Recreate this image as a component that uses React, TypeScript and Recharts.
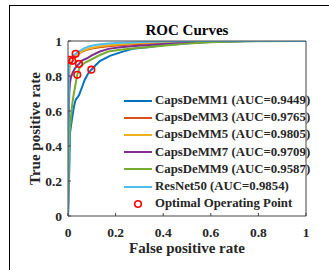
import { ComposedChart, Label, Legend, Line, Scatter, XAxis, YAxis } from "recharts";

// ROC curve points: [false positive rate, true positive rate]
const caps1: number[][] = [
  [0, 0], [0.006, 0.3], [0.008, 0.47], [0.012, 0.51], [0.018, 0.567], [0.025, 0.625],
  [0.032, 0.663], [0.046, 0.69], [0.06, 0.74], [0.07, 0.777], [0.085, 0.815], [0.098, 0.836],
  [0.115, 0.86], [0.134, 0.885], [0.176, 0.915], [0.22, 0.935], [0.27, 0.955], [0.345, 0.966],
  [0.39, 0.975], [0.47, 0.983], [0.55, 0.992], [0.65, 0.997], [0.8, 1], [1, 1],
];
const caps3: number[][] = [
  [0, 0], [0.003, 0.5], [0.005, 0.86], [0.007, 0.893], [0.015, 0.905], [0.025, 0.915],
  [0.04, 0.925], [0.06, 0.94], [0.08, 0.95], [0.1, 0.957], [0.134, 0.964], [0.17, 0.97],
  [0.22, 0.976], [0.28, 0.982], [0.35, 0.986], [0.45, 0.992], [0.55, 0.996], [0.7, 1], [1, 1],
];
const caps5: number[][] = [
  [0, 0], [0.003, 0.5], [0.006, 0.84], [0.012, 0.875], [0.018, 0.887], [0.03, 0.91],
  [0.045, 0.93], [0.065, 0.945], [0.09, 0.958], [0.134, 0.97], [0.18, 0.977], [0.24, 0.983],
  [0.3, 0.988], [0.4, 0.993], [0.5, 0.997], [0.65, 1], [1, 1],
];
const caps7: number[][] = [
  [0, 0], [0.003, 0.5], [0.005, 0.7], [0.008, 0.76], [0.012, 0.79], [0.02, 0.82],
  [0.03, 0.845], [0.046, 0.869], [0.06, 0.89], [0.078, 0.9], [0.1, 0.918], [0.134, 0.94],
  [0.17, 0.955], [0.22, 0.964], [0.28, 0.972], [0.345, 0.977], [0.42, 0.985], [0.5, 0.99],
  [0.6, 0.996], [0.75, 1], [1, 1],
];
const caps9: number[][] = [
  [0, 0], [0.004, 0.4], [0.008, 0.5], [0.012, 0.56], [0.016, 0.62], [0.022, 0.68],
  [0.03, 0.74], [0.039, 0.807], [0.05, 0.853], [0.07, 0.875], [0.092, 0.89], [0.134, 0.92],
  [0.17, 0.94], [0.22, 0.95], [0.28, 0.958], [0.345, 0.966], [0.42, 0.976], [0.5, 0.985],
  [0.6, 0.993], [0.75, 0.998], [1, 1],
];
const resnet50: number[][] = [
  [0, 0], [0.002, 0.5], [0.004, 0.85], [0.006, 0.89], [0.012, 0.905], [0.02, 0.915],
  [0.032, 0.927], [0.045, 0.94], [0.067, 0.958], [0.09, 0.97], [0.12, 0.978], [0.16, 0.984],
  [0.2, 0.988], [0.26, 0.991], [0.35, 0.995], [0.45, 0.998], [0.55, 1], [1, 1],
];

// optimal operating points, one per curve
const optimalPoints: number[][] = [
  [0.098, 0.836], [0.007, 0.893], [0.018, 0.887], [0.046, 0.869], [0.039, 0.807], [0.032, 0.927],
];

const axisTicks = [0, 0.2, 0.4, 0.6, 0.8, 1];

const toXY = (pts: number[][]) => pts.map(([x, y]) => ({ x, y }));

const series = [
  { name: "CapsDeMM1 (AUC=0.9449)", color: "#0072BD", points: caps1 },
  { name: "CapsDeMM3 (AUC=0.9765)", color: "#D95319", points: caps3 },
  { name: "CapsDeMM5 (AUC=0.9805)", color: "#EDB120", points: caps5 },
  { name: "CapsDeMM7 (AUC=0.9709)", color: "#7E2F8E", points: caps7 },
  { name: "CapsDeMM9 (AUC=0.9587)", color: "#77AC30", points: caps9 },
  { name: "ResNet50 (AUC=0.9854)", color: "#4DBEEE", points: resnet50 },
];

const FONT = '"Liberation Serif", "Times New Roman", serif';
const AXIS = "#444";
const TEXT = "#262626";

function RocLegend() {
  return (
    <div style={{ fontFamily: FONT, fontWeight: "bold", fontSize: 12.8, color: TEXT }}>
      {series.map((s) => (
        <div key={s.name} style={{ display: "flex", alignItems: "center", height: 17.2 }}>
          <svg width={30} height={6} style={{ marginRight: 1 }}>
            <line x1={0} y1={3} x2={28} y2={3} stroke={s.color} strokeWidth={2} />
          </svg>
          <span style={{ whiteSpace: "nowrap" }}>{s.name}</span>
        </div>
      ))}
      <div style={{ display: "flex", alignItems: "center", height: 17.2 }}>
        <svg width={30} height={10} style={{ marginRight: 1 }}>
          <circle cx={14} cy={5} r={3.3} fill="none" stroke="#FF0000" strokeWidth={1.6} />
        </svg>
        <span style={{ whiteSpace: "nowrap" }}>Optimal Operating Point</span>
      </div>
    </div>
  );
}

export default function App() {
  const tickStyle = { fontFamily: FONT, fontWeight: "bold" as const, fontSize: 13.5, fill: TEXT };
  return (
    <div style={{ position: "absolute", left: 0, top: 0, width: 329, height: 270, background: "#fff" }}>
      <div
        style={{
          position: "absolute",
          left: 9,
          top: 5,
          width: 330,
          height: 270,
          borderLeft: "1px solid #000",
          borderTop: "1px solid #000",
        }}
      />
      <div style={{ position: "absolute", left: 0, top: 0 }}>
        <ComposedChart width={329} height={270} margin={{ top: 0, right: 0, bottom: 0, left: 0 }}>
          <XAxis
            dataKey="x"
            type="number"
            domain={[0, 1]}
            ticks={axisTicks}
            height={54}
            stroke={AXIS}
            tickSize={-3}
            tickMargin={14}
            tick={tickStyle}
            allowDataOverflow
          >
            <Label
              value="False positive rate"
              position="insideTop"
              offset={26}
              style={{ fontFamily: FONT, fontWeight: "bold", fontSize: 15, fill: TEXT }}
            />
          </XAxis>
          <XAxis
            xAxisId="top"
            orientation="top"
            type="number"
            domain={[0, 1]}
            ticks={axisTicks}
            height={41}
            stroke={AXIS}
            tickSize={-3}
            tick={false}
            allowDataOverflow
          >
            <Label
              value="ROC Curves"
              position="insideBottom"
              offset={6}
              style={{ fontFamily: FONT, fontWeight: "bold", fontSize: 15, fill: "#000" }}
            />
          </XAxis>
          <YAxis
            type="number"
            domain={[0, 1]}
            ticks={axisTicks}
            width={68}
            stroke={AXIS}
            tickSize={-3}
            tickMargin={9}
            tick={tickStyle}
            tickFormatter={(v: number) => String(v)}
            allowDataOverflow
          >
            <Label
              value="True positive rate"
              position="insideLeft"
              angle={-90}
              offset={35}
              style={{ fontFamily: FONT, fontWeight: "bold", fontSize: 15, fill: TEXT, textAnchor: "middle" }}
            />
          </YAxis>
          <YAxis
            yAxisId="right"
            orientation="right"
            type="number"
            domain={[0, 1]}
            ticks={axisTicks}
            width={23}
            stroke={AXIS}
            tickSize={-3}
            tick={false}
            allowDataOverflow
          />
          {series.map((s) => (
            <Line
              key={s.name}
              name={s.name}
              data={toXY(s.points)}
              dataKey="y"
              type="linear"
              stroke={s.color}
              strokeWidth={2}
              dot={false}
              activeDot={false}
              isAnimationActive={false}
            />
          ))}
          <Scatter
            name="Optimal Operating Point"
            data={toXY(optimalPoints)}
            dataKey="y"
            isAnimationActive={false}
            shape={(p: any) => (
              <circle cx={p.cx} cy={p.cy} r={3.3} fill="none" stroke="#FF0000" strokeWidth={1.6} />
            )}
          />
          <Legend
            layout="vertical"
            align="center"
            verticalAlign="middle"
            content={() => <RocLegend />}
            wrapperStyle={{ left: 124, top: 92, width: 190, height: 122 }}
          />
        </ComposedChart>
      </div>
    </div>
  );
}
